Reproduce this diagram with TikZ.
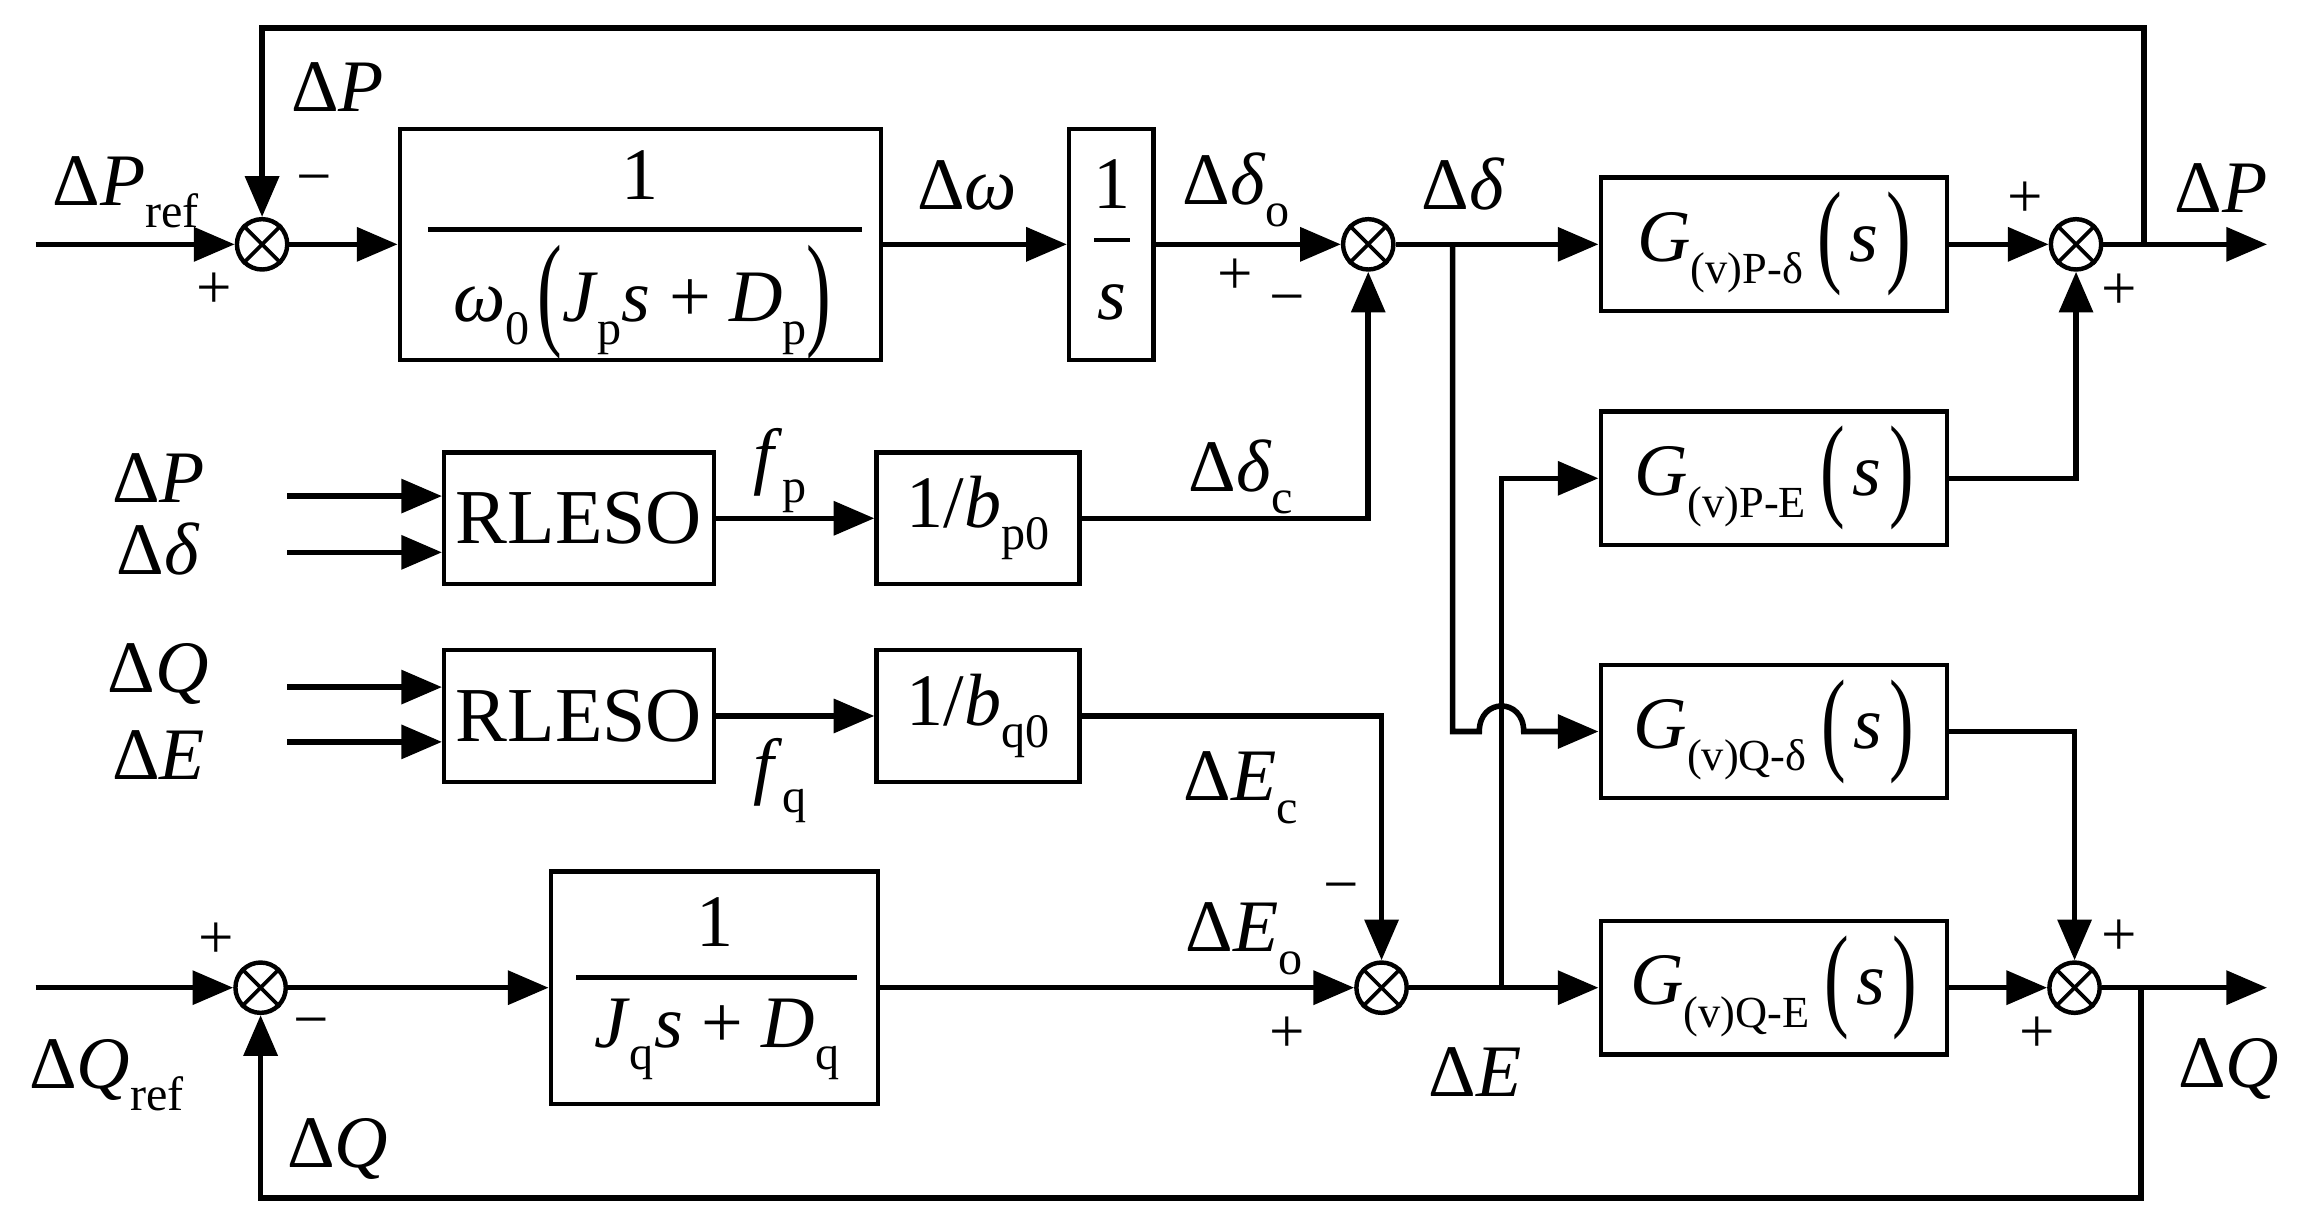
\documentclass[tikz,border=0pt]{standalone}
\usepackage{fontspec}
\setmainfont{Liberation Serif}
\usepackage{graphicx}
\usetikzlibrary{arrows.meta}
\newcommand{\tallparen}[2][1.55]{\raisebox{-0.14em}{\scalebox{1}[#1]{#2}}}
\newcommand{\lsub}[2][13]{\raisebox{-0.3em}{\fontsize{#1}{#1}\selectfont #2}}
\begin{document}
\begin{tikzpicture}[x=0.4pt,y=-0.4pt,
  sig/.style={line width=1.5pt},
  arr/.style={sig,-{Triangle[length=11pt,width=9pt]}},
  blk/.style={draw,line width=1.2pt,inner sep=0pt,font=\fontsize{20}{24}\selectfont},
  gblk/.style={blk,minimum width=93.6pt,minimum height=36pt},
  rblk/.style={blk,minimum width=72.8pt,minimum height=35.6pt,font=\fontsize{21}{24}\selectfont},
  bblk/.style={blk,minimum width=54.8pt,minimum height=35.6pt},
  sumnode/.style={draw,circle,line width=1.2pt,minimum size=13.6pt,inner sep=0pt},
  lbl/.style={font=\fontsize{20}{24}\selectfont,inner sep=0pt},
  sgn/.style={font=\fontsize{17}{20}\selectfont,inner sep=0pt}]
\useasboundingbox (0,0) rectangle (1560,828);

% ---------- blocks ----------
\node[blk,minimum width=130pt,minimum height=62.4pt] (b1) at (432.5,165) {};
\node[blk,minimum width=22.8pt,minimum height=62.4pt] (bs) at (750.5,165) {};
\node[gblk] (gpd) at (1198,165) {\textit{G}\lsub[12]{(v)P-δ}\hspace{4pt}\tallparen{(}\hspace{2pt}\textit{s}\hspace{2pt}\tallparen{)}};
\node[gblk] (gpe) at (1198,323) {\textit{G}\lsub[12]{(v)P-E}\hspace{4pt}\tallparen{(}\hspace{2pt}\textit{s}\hspace{2pt}\tallparen{)}};
\node[gblk] (gqd) at (1198,494) {\textit{G}\lsub[12]{(v)Q-δ}\hspace{4pt}\tallparen{(}\hspace{2pt}\textit{s}\hspace{2pt}\tallparen{)}};
\node[gblk] (gqe) at (1198,667) {\textit{G}\lsub[12]{(v)Q-E}\hspace{4pt}\tallparen{(}\hspace{2pt}\textit{s}\hspace{2pt}\tallparen{)}};
\node[rblk] (r1) at (391,350) {RLESO};
\node[rblk] (r2) at (391,483.5) {RLESO};
\node[bblk] (bp) at (660.5,350) {1/\textit{b}\lsub{p0}};
\node[bblk] (bq) at (660.5,483.5) {1/\textit{b}\lsub{q0}};
\node[blk,minimum width=88.4pt,minimum height=62.8pt] (bj) at (482.5,667) {};

% fractions inside blocks
\node[lbl] (b1num) at (432,118) {1};
\draw[line width=1.2pt] (289,155) -- (582,155);
\node[lbl] (b1den) at (434,204) {\textit{ω}\lsub{0}\hspace{2pt}\tallparen[1.7]{(}\textit{J}\lsub{p}\textit{s} + \textit{D}\lsub{p}\tallparen[1.7]{)}};
\node[lbl] (bsnum) at (751,124) {1};
\draw[line width=1.2pt] (739,162) -- (763,162);
\node[lbl] (bsden) at (751,204) {\textit{s}};
\node[lbl] (bjnum) at (483,623) {1};
\draw[line width=1.2pt] (389,660) -- (579,660);
\node[lbl] (bjden) at (484,702) {\textit{J}\lsub{q}\textit{s} + \textit{D}\lsub{q}};

% ---------- summing junctions ----------
\node[sumnode] (s1) at (177,165) {};
\node[sumnode] (s2) at (924,165) {};
\node[sumnode] (s3) at (1402,165) {};
\node[sumnode] (s4) at (933,667) {};
\node[sumnode] (s5) at (1401,667) {};
\node[sumnode] (s6) at (176,667) {};
\foreach \s in {s1,s2,s3,s4,s5,s6}{
  \draw[line width=1pt] (\s.north west) -- (\s.south east) (\s.north east) -- (\s.south west);
}

% ---------- coordinates ----------
\coordinate (in1) at (24,165);
\coordinate (in2) at (24,667);
\coordinate (oP) at (1531,165);
\coordinate (oQ) at (1531,667);
\coordinate (tP) at (1448,165);
\coordinate (s1top) at (177,19);
\coordinate (tQ) at (1446,667);
\coordinate (s6bot) at (176,809);
\coordinate (bd) at (981,165);
\coordinate (bdl) at (981,494);
\coordinate (j1) at (999,494);
\coordinate (j2) at (1029,494);
\coordinate (bE) at (1014,667);
\coordinate (iP) at (194,335);
\coordinate (iD) at (194,373);
\coordinate (iQ) at (194,464);
\coordinate (iE) at (194,501);

% ---------- connectors ----------
\draw[arr] (in1) -- (s1);
\draw[arr] (s1) -- (b1);
\draw[arr] (b1) -- (bs);
\draw[arr] (bs) -- (s2);
\draw[arr] (s2) -- (gpd);
\draw[arr] (gpd) -- (s3);
\draw[arr] (s3) -- (oP);
\draw[arr] (tP) |- (s1top) -- (s1);
\draw[arr] (bd) -- (bdl) -- (j1) .. controls (999,471) and (1029,471) .. (j2) -- (gqd);
\draw[arr] (iP) -- (r1.west |- iP);
\draw[arr] (iD) -- (r1.west |- iD);
\draw[arr] (r1) -- (bp);
\draw[arr] (bp) -| (s2);
\draw[arr] (gpe) -| (s3);
\draw[arr] (iQ) -- (r2.west |- iQ);
\draw[arr] (iE) -- (r2.west |- iE);
\draw[arr] (r2) -- (bq);
\draw[arr] (bq) -| (s4);
\draw[arr] (gqd) -| (s5);
\draw[arr] (in2) -- (s6);
\draw[arr] (s6) -- (bj);
\draw[arr] (bj) -- (s4);
\draw[arr] (s4) -- (gqe);
\draw[arr] (bE) |- (gpe);
\draw[arr] (gqe) -- (s5);
\draw[arr] (s5) -- (oQ);
\draw[arr] (tQ) |- (s6bot) -- (s6);

% ---------- labels ----------
\node[lbl] (lPref) at (85,130) {Δ\textit{P}\lsub{ref}};
\node[lbl] (lPfb) at (228,59) {Δ\textit{P}};
\node[sgn] (m1) at (212,126) {−};
\node[sgn] (p1) at (145,196) {+};
\node[lbl] (lw) at (653,125) {Δ\textit{ω}};
\node[lbl] (ldo) at (835,128) {Δ\textit{δ}\lsub{o}};
\node[sgn] (p2) at (834,187) {+};
\node[sgn] (m2) at (869,207) {−};
\node[lbl] (ld) at (988,124) {Δ\textit{δ}};
\node[sgn] (p3a) at (1368,135) {+};
\node[sgn] (p3b) at (1431,197) {+};
\node[lbl] (lPout) at (1500,127) {Δ\textit{P}};
\node[lbl] (lP2) at (107,323) {Δ\textit{P}};
\node[lbl] (ld2) at (107,371) {Δ\textit{δ}};
\node[lbl] (lfp) at (527,318) {\textit{f}\lsub{p}};
\node[lbl] (ldc) at (838,322) {Δ\textit{δ}\lsub{c}};
\node[lbl] (lQ2) at (107,455) {Δ\textit{Q}};
\node[lbl] (lE2) at (107,510) {Δ\textit{E}};
\node[lbl] (lfq) at (527,527) {\textit{f}\lsub{q}};
\node[lbl] (lEc) at (838,532) {Δ\textit{E}\lsub{c}};
\node[sgn] (m4) at (906,604) {−};
\node[lbl] (lEo) at (840,634) {Δ\textit{E}\lsub{o}};
\node[sgn] (p4) at (869,699) {+};
\node[lbl] (lE) at (996,724) {Δ\textit{E}};
\node[sgn] (p5a) at (1431,633) {+};
\node[sgn] (p5b) at (1376,699) {+};
\node[lbl] (lQout) at (1505,722) {Δ\textit{Q}};
\node[sgn] (p6) at (146,635) {+};
\node[sgn] (m6) at (210,695) {−};
\node[lbl] (lQref) at (72,726) {Δ\textit{Q}\lsub{ref}};
\node[lbl] (lQfb) at (228,776) {Δ\textit{Q}};
\end{tikzpicture}
\end{document}
